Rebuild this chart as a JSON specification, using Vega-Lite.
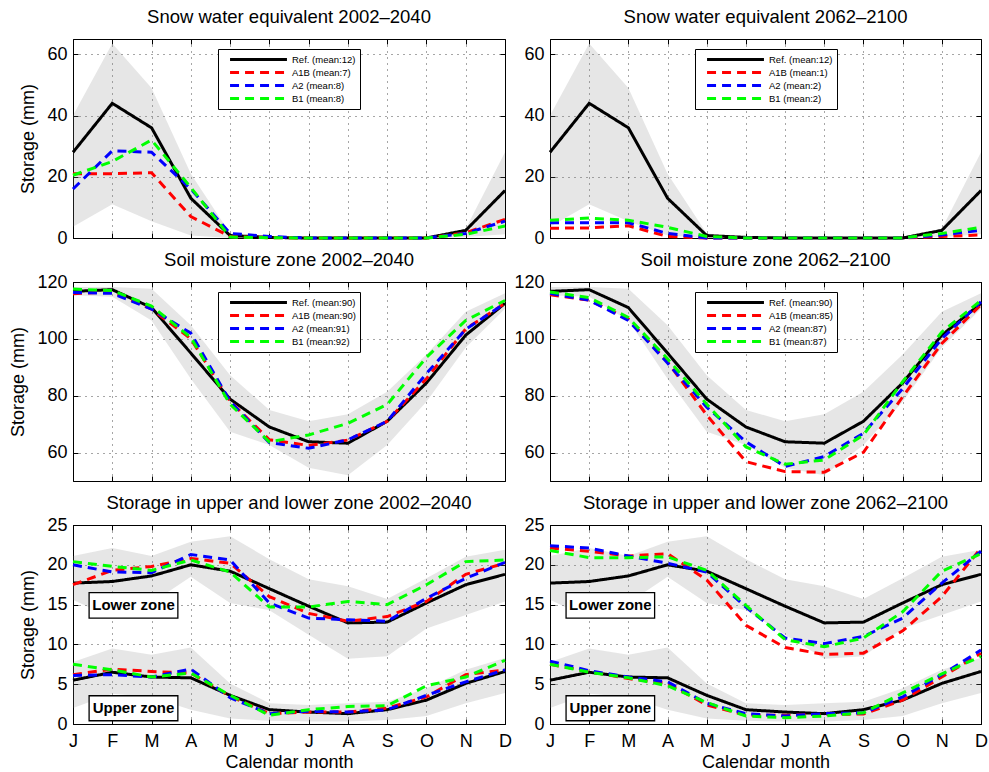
{
"$schema":"https://vega.github.io/schema/vega-lite/v6.json",
"padding":{"left":9,"top":8,"right":5,"bottom":0},
"background":"white",
"columns":2,
"bounds":"flush",
"spacing":{"row":44,"column":45},
"datasets":{
"band":[
{"r":"snow","z":"a","m":1,"lo":3.7,"hi":40},{"r":"snow","z":"a","m":2,"lo":11,"hi":63.5},{"r":"snow","z":"a","m":3,"lo":5.5,"hi":49},{"r":"snow","z":"a","m":4,"lo":0.8,"hi":21},{"r":"snow","z":"a","m":5,"lo":0,"hi":1.5},{"r":"snow","z":"a","m":6,"lo":0,"hi":0.3},{"r":"snow","z":"a","m":7,"lo":0,"hi":0.2},{"r":"snow","z":"a","m":8,"lo":0,"hi":0.2},{"r":"snow","z":"a","m":9,"lo":0,"hi":0.2},{"r":"snow","z":"a","m":10,"lo":0,"hi":0.5},{"r":"snow","z":"a","m":11,"lo":0.3,"hi":3},{"r":"snow","z":"a","m":12,"lo":1.2,"hi":28},
{"r":"soil","z":"a","m":1,"lo":115.3,"hi":118.2},{"r":"soil","z":"a","m":2,"lo":114.8,"hi":118.2},{"r":"soil","z":"a","m":3,"lo":106.5,"hi":117.6},{"r":"soil","z":"a","m":4,"lo":86,"hi":104.8},{"r":"soil","z":"a","m":5,"lo":67.3,"hi":87.2},{"r":"soil","z":"a","m":6,"lo":62.7,"hi":75},{"r":"soil","z":"a","m":7,"lo":54.7,"hi":71},{"r":"soil","z":"a","m":8,"lo":52,"hi":73.5},{"r":"soil","z":"a","m":9,"lo":62.7,"hi":81.4},{"r":"soil","z":"a","m":10,"lo":77.9,"hi":94.5},{"r":"soil","z":"a","m":11,"lo":97,"hi":109.5},{"r":"soil","z":"a","m":12,"lo":110.6,"hi":116},
{"r":"stor","z":"L","m":1,"lo":15.6,"hi":21.1},{"r":"stor","z":"L","m":2,"lo":13.3,"hi":22.1},{"r":"stor","z":"L","m":3,"lo":15.2,"hi":21.1},{"r":"stor","z":"L","m":4,"lo":18.5,"hi":22.9},{"r":"stor","z":"L","m":5,"lo":15.2,"hi":23.6},{"r":"stor","z":"L","m":6,"lo":14.3,"hi":20.7},{"r":"stor","z":"L","m":7,"lo":11.2,"hi":18.2},{"r":"stor","z":"L","m":8,"lo":8.2,"hi":17.3},{"r":"stor","z":"L","m":9,"lo":8.5,"hi":15.7},{"r":"stor","z":"L","m":10,"lo":12,"hi":18.3},{"r":"stor","z":"L","m":11,"lo":13.7,"hi":21},{"r":"stor","z":"L","m":12,"lo":15.4,"hi":21.9},
{"r":"stor","z":"U","m":1,"lo":2,"hi":7.8},{"r":"stor","z":"U","m":2,"lo":3.8,"hi":9.5},{"r":"stor","z":"U","m":3,"lo":3.4,"hi":8.7},{"r":"stor","z":"U","m":4,"lo":1.8,"hi":9.6},{"r":"stor","z":"U","m":5,"lo":0.7,"hi":5.1},{"r":"stor","z":"U","m":6,"lo":0.4,"hi":2.6},{"r":"stor","z":"U","m":7,"lo":0.3,"hi":2.4},{"r":"stor","z":"U","m":8,"lo":0.3,"hi":2.6},{"r":"stor","z":"U","m":9,"lo":0.5,"hi":2.8},{"r":"stor","z":"U","m":10,"lo":1,"hi":4.5},{"r":"stor","z":"U","m":11,"lo":2.6,"hi":6.8},{"r":"stor","z":"U","m":12,"lo":3.9,"hi":8.3}
],
"lines":[
{"r":"snow","z":"a","p":0,"s":"Ref","m":1,"v":28},{"r":"snow","z":"a","p":0,"s":"Ref","m":2,"v":44},{"r":"snow","z":"a","p":0,"s":"Ref","m":3,"v":36},{"r":"snow","z":"a","p":0,"s":"Ref","m":4,"v":13},{"r":"snow","z":"a","p":0,"s":"Ref","m":5,"v":0.8},{"r":"snow","z":"a","p":0,"s":"Ref","m":6,"v":0.2},{"r":"snow","z":"a","p":0,"s":"Ref","m":7,"v":0},{"r":"snow","z":"a","p":0,"s":"Ref","m":8,"v":0},{"r":"snow","z":"a","p":0,"s":"Ref","m":9,"v":0},{"r":"snow","z":"a","p":0,"s":"Ref","m":10,"v":0},{"r":"snow","z":"a","p":0,"s":"Ref","m":11,"v":2.5},{"r":"snow","z":"a","p":0,"s":"Ref","m":12,"v":15.5},
{"r":"snow","z":"a","p":1,"s":"A1B","m":1,"v":21},{"r":"snow","z":"a","p":1,"s":"A1B","m":2,"v":21},{"r":"snow","z":"a","p":1,"s":"A1B","m":3,"v":21.3},{"r":"snow","z":"a","p":1,"s":"A1B","m":4,"v":7},{"r":"snow","z":"a","p":1,"s":"A1B","m":5,"v":0.5},{"r":"snow","z":"a","p":1,"s":"A1B","m":6,"v":0.1},{"r":"snow","z":"a","p":1,"s":"A1B","m":7,"v":0},{"r":"snow","z":"a","p":1,"s":"A1B","m":8,"v":0},{"r":"snow","z":"a","p":1,"s":"A1B","m":9,"v":0},{"r":"snow","z":"a","p":1,"s":"A1B","m":10,"v":0},{"r":"snow","z":"a","p":1,"s":"A1B","m":11,"v":1.7},{"r":"snow","z":"a","p":1,"s":"A1B","m":12,"v":6.1},
{"r":"snow","z":"a","p":1,"s":"A2","m":1,"v":16},{"r":"snow","z":"a","p":1,"s":"A2","m":2,"v":28.5},{"r":"snow","z":"a","p":1,"s":"A2","m":3,"v":28},{"r":"snow","z":"a","p":1,"s":"A2","m":4,"v":16},{"r":"snow","z":"a","p":1,"s":"A2","m":5,"v":1.5},{"r":"snow","z":"a","p":1,"s":"A2","m":6,"v":0.5},{"r":"snow","z":"a","p":1,"s":"A2","m":7,"v":0},{"r":"snow","z":"a","p":1,"s":"A2","m":8,"v":0},{"r":"snow","z":"a","p":1,"s":"A2","m":9,"v":0},{"r":"snow","z":"a","p":1,"s":"A2","m":10,"v":0},{"r":"snow","z":"a","p":1,"s":"A2","m":11,"v":1.5},{"r":"snow","z":"a","p":1,"s":"A2","m":12,"v":5.5},
{"r":"snow","z":"a","p":1,"s":"B1","m":1,"v":20.5},{"r":"snow","z":"a","p":1,"s":"B1","m":2,"v":25},{"r":"snow","z":"a","p":1,"s":"B1","m":3,"v":32},{"r":"snow","z":"a","p":1,"s":"B1","m":4,"v":16.5},{"r":"snow","z":"a","p":1,"s":"B1","m":5,"v":0.3},{"r":"snow","z":"a","p":1,"s":"B1","m":6,"v":0.1},{"r":"snow","z":"a","p":1,"s":"B1","m":7,"v":0},{"r":"snow","z":"a","p":1,"s":"B1","m":8,"v":0},{"r":"snow","z":"a","p":1,"s":"B1","m":9,"v":0},{"r":"snow","z":"a","p":1,"s":"B1","m":10,"v":0},{"r":"snow","z":"a","p":1,"s":"B1","m":11,"v":1.2},{"r":"snow","z":"a","p":1,"s":"B1","m":12,"v":3.9},
{"r":"snow","z":"a","p":2,"s":"A1B","m":1,"v":3.2},{"r":"snow","z":"a","p":2,"s":"A1B","m":2,"v":3.3},{"r":"snow","z":"a","p":2,"s":"A1B","m":3,"v":4},{"r":"snow","z":"a","p":2,"s":"A1B","m":4,"v":0.5},{"r":"snow","z":"a","p":2,"s":"A1B","m":5,"v":0},{"r":"snow","z":"a","p":2,"s":"A1B","m":6,"v":0},{"r":"snow","z":"a","p":2,"s":"A1B","m":7,"v":0},{"r":"snow","z":"a","p":2,"s":"A1B","m":8,"v":0},{"r":"snow","z":"a","p":2,"s":"A1B","m":9,"v":0},{"r":"snow","z":"a","p":2,"s":"A1B","m":10,"v":0},{"r":"snow","z":"a","p":2,"s":"A1B","m":11,"v":0.5},{"r":"snow","z":"a","p":2,"s":"A1B","m":12,"v":1},
{"r":"snow","z":"a","p":2,"s":"A2","m":1,"v":5},{"r":"snow","z":"a","p":2,"s":"A2","m":2,"v":5},{"r":"snow","z":"a","p":2,"s":"A2","m":3,"v":5},{"r":"snow","z":"a","p":2,"s":"A2","m":4,"v":1.5},{"r":"snow","z":"a","p":2,"s":"A2","m":5,"v":0},{"r":"snow","z":"a","p":2,"s":"A2","m":6,"v":0},{"r":"snow","z":"a","p":2,"s":"A2","m":7,"v":0},{"r":"snow","z":"a","p":2,"s":"A2","m":8,"v":0},{"r":"snow","z":"a","p":2,"s":"A2","m":9,"v":0},{"r":"snow","z":"a","p":2,"s":"A2","m":10,"v":0},{"r":"snow","z":"a","p":2,"s":"A2","m":11,"v":1},{"r":"snow","z":"a","p":2,"s":"A2","m":12,"v":2.5},
{"r":"snow","z":"a","p":2,"s":"B1","m":1,"v":5.8},{"r":"snow","z":"a","p":2,"s":"B1","m":2,"v":6.5},{"r":"snow","z":"a","p":2,"s":"B1","m":3,"v":5.8},{"r":"snow","z":"a","p":2,"s":"B1","m":4,"v":3.5},{"r":"snow","z":"a","p":2,"s":"B1","m":5,"v":0.5},{"r":"snow","z":"a","p":2,"s":"B1","m":6,"v":0},{"r":"snow","z":"a","p":2,"s":"B1","m":7,"v":0},{"r":"snow","z":"a","p":2,"s":"B1","m":8,"v":0},{"r":"snow","z":"a","p":2,"s":"B1","m":9,"v":0},{"r":"snow","z":"a","p":2,"s":"B1","m":10,"v":0},{"r":"snow","z":"a","p":2,"s":"B1","m":11,"v":1.5},{"r":"snow","z":"a","p":2,"s":"B1","m":12,"v":3.5},
{"r":"soil","z":"a","p":0,"s":"Ref","m":1,"v":116.7},{"r":"soil","z":"a","p":0,"s":"Ref","m":2,"v":117.3},{"r":"soil","z":"a","p":0,"s":"Ref","m":3,"v":111},{"r":"soil","z":"a","p":0,"s":"Ref","m":4,"v":95},{"r":"soil","z":"a","p":0,"s":"Ref","m":5,"v":78.8},{"r":"soil","z":"a","p":0,"s":"Ref","m":6,"v":69},{"r":"soil","z":"a","p":0,"s":"Ref","m":7,"v":63.8},{"r":"soil","z":"a","p":0,"s":"Ref","m":8,"v":63.3},{"r":"soil","z":"a","p":0,"s":"Ref","m":9,"v":71},{"r":"soil","z":"a","p":0,"s":"Ref","m":10,"v":84.5},{"r":"soil","z":"a","p":0,"s":"Ref","m":11,"v":101.3},{"r":"soil","z":"a","p":0,"s":"Ref","m":12,"v":112.5},
{"r":"soil","z":"a","p":1,"s":"A1B","m":1,"v":115.9},{"r":"soil","z":"a","p":1,"s":"A1B","m":2,"v":116.5},{"r":"soil","z":"a","p":1,"s":"A1B","m":3,"v":110.5},{"r":"soil","z":"a","p":1,"s":"A1B","m":4,"v":100},{"r":"soil","z":"a","p":1,"s":"A1B","m":5,"v":78},{"r":"soil","z":"a","p":1,"s":"A1B","m":6,"v":64.5},{"r":"soil","z":"a","p":1,"s":"A1B","m":7,"v":62.5},{"r":"soil","z":"a","p":1,"s":"A1B","m":8,"v":64.4},{"r":"soil","z":"a","p":1,"s":"A1B","m":9,"v":71},{"r":"soil","z":"a","p":1,"s":"A1B","m":10,"v":86},{"r":"soil","z":"a","p":1,"s":"A1B","m":11,"v":103.5},{"r":"soil","z":"a","p":1,"s":"A1B","m":12,"v":112.5},
{"r":"soil","z":"a","p":1,"s":"A2","m":1,"v":116.3},{"r":"soil","z":"a","p":1,"s":"A2","m":2,"v":116},{"r":"soil","z":"a","p":1,"s":"A2","m":3,"v":110.5},{"r":"soil","z":"a","p":1,"s":"A2","m":4,"v":102},{"r":"soil","z":"a","p":1,"s":"A2","m":5,"v":78},{"r":"soil","z":"a","p":1,"s":"A2","m":6,"v":63.5},{"r":"soil","z":"a","p":1,"s":"A2","m":7,"v":61.5},{"r":"soil","z":"a","p":1,"s":"A2","m":8,"v":64.5},{"r":"soil","z":"a","p":1,"s":"A2","m":9,"v":71},{"r":"soil","z":"a","p":1,"s":"A2","m":10,"v":87.8},{"r":"soil","z":"a","p":1,"s":"A2","m":11,"v":103.4},{"r":"soil","z":"a","p":1,"s":"A2","m":12,"v":112.5},
{"r":"soil","z":"a","p":1,"s":"B1","m":1,"v":117.5},{"r":"soil","z":"a","p":1,"s":"B1","m":2,"v":117},{"r":"soil","z":"a","p":1,"s":"B1","m":3,"v":111.5},{"r":"soil","z":"a","p":1,"s":"B1","m":4,"v":100.5},{"r":"soil","z":"a","p":1,"s":"B1","m":5,"v":77},{"r":"soil","z":"a","p":1,"s":"B1","m":6,"v":63.8},{"r":"soil","z":"a","p":1,"s":"B1","m":7,"v":66.2},{"r":"soil","z":"a","p":1,"s":"B1","m":8,"v":70.3},{"r":"soil","z":"a","p":1,"s":"B1","m":9,"v":76.9},{"r":"soil","z":"a","p":1,"s":"B1","m":10,"v":93.5},{"r":"soil","z":"a","p":1,"s":"B1","m":11,"v":106.5},{"r":"soil","z":"a","p":1,"s":"B1","m":12,"v":113.5},
{"r":"soil","z":"a","p":2,"s":"A1B","m":1,"v":115.5},{"r":"soil","z":"a","p":2,"s":"A1B","m":2,"v":113.6},{"r":"soil","z":"a","p":2,"s":"A1B","m":3,"v":107},{"r":"soil","z":"a","p":2,"s":"A1B","m":4,"v":91.9},{"r":"soil","z":"a","p":2,"s":"A1B","m":5,"v":73.2},{"r":"soil","z":"a","p":2,"s":"A1B","m":6,"v":56.8},{"r":"soil","z":"a","p":2,"s":"A1B","m":7,"v":53.3},{"r":"soil","z":"a","p":2,"s":"A1B","m":8,"v":53.1},{"r":"soil","z":"a","p":2,"s":"A1B","m":9,"v":60.1},{"r":"soil","z":"a","p":2,"s":"A1B","m":10,"v":79.6},{"r":"soil","z":"a","p":2,"s":"A1B","m":11,"v":98.4},{"r":"soil","z":"a","p":2,"s":"A1B","m":12,"v":112},
{"r":"soil","z":"a","p":2,"s":"A2","m":1,"v":116},{"r":"soil","z":"a","p":2,"s":"A2","m":2,"v":113.6},{"r":"soil","z":"a","p":2,"s":"A2","m":3,"v":106.5},{"r":"soil","z":"a","p":2,"s":"A2","m":4,"v":91.5},{"r":"soil","z":"a","p":2,"s":"A2","m":5,"v":76},{"r":"soil","z":"a","p":2,"s":"A2","m":6,"v":63.8},{"r":"soil","z":"a","p":2,"s":"A2","m":7,"v":55.1},{"r":"soil","z":"a","p":2,"s":"A2","m":8,"v":58.6},{"r":"soil","z":"a","p":2,"s":"A2","m":9,"v":66.8},{"r":"soil","z":"a","p":2,"s":"A2","m":10,"v":82.5},{"r":"soil","z":"a","p":2,"s":"A2","m":11,"v":100.1},{"r":"soil","z":"a","p":2,"s":"A2","m":12,"v":113},
{"r":"soil","z":"a","p":2,"s":"B1","m":1,"v":116.5},{"r":"soil","z":"a","p":2,"s":"B1","m":2,"v":114.5},{"r":"soil","z":"a","p":2,"s":"B1","m":3,"v":107.5},{"r":"soil","z":"a","p":2,"s":"B1","m":4,"v":93},{"r":"soil","z":"a","p":2,"s":"B1","m":5,"v":77},{"r":"soil","z":"a","p":2,"s":"B1","m":6,"v":62},{"r":"soil","z":"a","p":2,"s":"B1","m":7,"v":55.9},{"r":"soil","z":"a","p":2,"s":"B1","m":8,"v":57.4},{"r":"soil","z":"a","p":2,"s":"B1","m":9,"v":66.2},{"r":"soil","z":"a","p":2,"s":"B1","m":10,"v":84.9},{"r":"soil","z":"a","p":2,"s":"B1","m":11,"v":102.4},{"r":"soil","z":"a","p":2,"s":"B1","m":12,"v":113.5},
{"r":"stor","z":"L","p":0,"s":"Ref","m":1,"v":17.7},{"r":"stor","z":"L","p":0,"s":"Ref","m":2,"v":17.9},{"r":"stor","z":"L","p":0,"s":"Ref","m":3,"v":18.6},{"r":"stor","z":"L","p":0,"s":"Ref","m":4,"v":20},{"r":"stor","z":"L","p":0,"s":"Ref","m":5,"v":19.2},{"r":"stor","z":"L","p":0,"s":"Ref","m":6,"v":17},{"r":"stor","z":"L","p":0,"s":"Ref","m":7,"v":14.8},{"r":"stor","z":"L","p":0,"s":"Ref","m":8,"v":12.7},{"r":"stor","z":"L","p":0,"s":"Ref","m":9,"v":12.8},{"r":"stor","z":"L","p":0,"s":"Ref","m":10,"v":15.2},{"r":"stor","z":"L","p":0,"s":"Ref","m":11,"v":17.5},{"r":"stor","z":"L","p":0,"s":"Ref","m":12,"v":18.8},
{"r":"stor","z":"U","p":0,"s":"Ref","m":1,"v":5.5},{"r":"stor","z":"U","p":0,"s":"Ref","m":2,"v":6.5},{"r":"stor","z":"U","p":0,"s":"Ref","m":3,"v":5.9},{"r":"stor","z":"U","p":0,"s":"Ref","m":4,"v":5.8},{"r":"stor","z":"U","p":0,"s":"Ref","m":5,"v":3.6},{"r":"stor","z":"U","p":0,"s":"Ref","m":6,"v":1.8},{"r":"stor","z":"U","p":0,"s":"Ref","m":7,"v":1.5},{"r":"stor","z":"U","p":0,"s":"Ref","m":8,"v":1.3},{"r":"stor","z":"U","p":0,"s":"Ref","m":9,"v":1.8},{"r":"stor","z":"U","p":0,"s":"Ref","m":10,"v":3},{"r":"stor","z":"U","p":0,"s":"Ref","m":11,"v":5.1},{"r":"stor","z":"U","p":0,"s":"Ref","m":12,"v":6.6},
{"r":"stor","z":"L","p":1,"s":"A1B","m":1,"v":17.5},{"r":"stor","z":"L","p":1,"s":"A1B","m":2,"v":19.3},{"r":"stor","z":"L","p":1,"s":"A1B","m":3,"v":19.8},{"r":"stor","z":"L","p":1,"s":"A1B","m":4,"v":20.8},{"r":"stor","z":"L","p":1,"s":"A1B","m":5,"v":20.2},{"r":"stor","z":"L","p":1,"s":"A1B","m":6,"v":16},{"r":"stor","z":"L","p":1,"s":"A1B","m":7,"v":13.9},{"r":"stor","z":"L","p":1,"s":"A1B","m":8,"v":12.9},{"r":"stor","z":"L","p":1,"s":"A1B","m":9,"v":13.5},{"r":"stor","z":"L","p":1,"s":"A1B","m":10,"v":15.4},{"r":"stor","z":"L","p":1,"s":"A1B","m":11,"v":18.8},{"r":"stor","z":"L","p":1,"s":"A1B","m":12,"v":20.2},
{"r":"stor","z":"L","p":1,"s":"A2","m":1,"v":20},{"r":"stor","z":"L","p":1,"s":"A2","m":2,"v":19.1},{"r":"stor","z":"L","p":1,"s":"A2","m":3,"v":19},{"r":"stor","z":"L","p":1,"s":"A2","m":4,"v":21.3},{"r":"stor","z":"L","p":1,"s":"A2","m":5,"v":20.6},{"r":"stor","z":"L","p":1,"s":"A2","m":6,"v":15.2},{"r":"stor","z":"L","p":1,"s":"A2","m":7,"v":13.3},{"r":"stor","z":"L","p":1,"s":"A2","m":8,"v":13.1},{"r":"stor","z":"L","p":1,"s":"A2","m":9,"v":12.9},{"r":"stor","z":"L","p":1,"s":"A2","m":10,"v":15.8},{"r":"stor","z":"L","p":1,"s":"A2","m":11,"v":18.3},{"r":"stor","z":"L","p":1,"s":"A2","m":12,"v":20.3},
{"r":"stor","z":"L","p":1,"s":"B1","m":1,"v":20.4},{"r":"stor","z":"L","p":1,"s":"B1","m":2,"v":19.8},{"r":"stor","z":"L","p":1,"s":"B1","m":3,"v":19.3},{"r":"stor","z":"L","p":1,"s":"B1","m":4,"v":20.6},{"r":"stor","z":"L","p":1,"s":"B1","m":5,"v":19.1},{"r":"stor","z":"L","p":1,"s":"B1","m":6,"v":14.7},{"r":"stor","z":"L","p":1,"s":"B1","m":7,"v":14.7},{"r":"stor","z":"L","p":1,"s":"B1","m":8,"v":15.4},{"r":"stor","z":"L","p":1,"s":"B1","m":9,"v":15},{"r":"stor","z":"L","p":1,"s":"B1","m":10,"v":17.5},{"r":"stor","z":"L","p":1,"s":"B1","m":11,"v":20.4},{"r":"stor","z":"L","p":1,"s":"B1","m":12,"v":20.6},
{"r":"stor","z":"U","p":1,"s":"A1B","m":1,"v":6.2},{"r":"stor","z":"U","p":1,"s":"A1B","m":2,"v":6.9},{"r":"stor","z":"U","p":1,"s":"A1B","m":3,"v":6.6},{"r":"stor","z":"U","p":1,"s":"A1B","m":4,"v":6.4},{"r":"stor","z":"U","p":1,"s":"A1B","m":5,"v":3.5},{"r":"stor","z":"U","p":1,"s":"A1B","m":6,"v":1.3},{"r":"stor","z":"U","p":1,"s":"A1B","m":7,"v":1.5},{"r":"stor","z":"U","p":1,"s":"A1B","m":8,"v":1.5},{"r":"stor","z":"U","p":1,"s":"A1B","m":9,"v":2},{"r":"stor","z":"U","p":1,"s":"A1B","m":10,"v":3.4},{"r":"stor","z":"U","p":1,"s":"A1B","m":11,"v":6.2},{"r":"stor","z":"U","p":1,"s":"A1B","m":12,"v":6.8},
{"r":"stor","z":"U","p":1,"s":"A2","m":1,"v":6.1},{"r":"stor","z":"U","p":1,"s":"A2","m":2,"v":6.2},{"r":"stor","z":"U","p":1,"s":"A2","m":3,"v":5.9},{"r":"stor","z":"U","p":1,"s":"A2","m":4,"v":6.9},{"r":"stor","z":"U","p":1,"s":"A2","m":5,"v":3.3},{"r":"stor","z":"U","p":1,"s":"A2","m":6,"v":1.3},{"r":"stor","z":"U","p":1,"s":"A2","m":7,"v":1.6},{"r":"stor","z":"U","p":1,"s":"A2","m":8,"v":1.5},{"r":"stor","z":"U","p":1,"s":"A2","m":9,"v":1.8},{"r":"stor","z":"U","p":1,"s":"A2","m":10,"v":3.6},{"r":"stor","z":"U","p":1,"s":"A2","m":11,"v":5.3},{"r":"stor","z":"U","p":1,"s":"A2","m":12,"v":6.8},
{"r":"stor","z":"U","p":1,"s":"B1","m":1,"v":7.5},{"r":"stor","z":"U","p":1,"s":"B1","m":2,"v":6.8},{"r":"stor","z":"U","p":1,"s":"B1","m":3,"v":5.9},{"r":"stor","z":"U","p":1,"s":"B1","m":4,"v":6.4},{"r":"stor","z":"U","p":1,"s":"B1","m":5,"v":3.6},{"r":"stor","z":"U","p":1,"s":"B1","m":6,"v":1.1},{"r":"stor","z":"U","p":1,"s":"B1","m":7,"v":1.8},{"r":"stor","z":"U","p":1,"s":"B1","m":8,"v":2.2},{"r":"stor","z":"U","p":1,"s":"B1","m":9,"v":2.3},{"r":"stor","z":"U","p":1,"s":"B1","m":10,"v":4.8},{"r":"stor","z":"U","p":1,"s":"B1","m":11,"v":5.9},{"r":"stor","z":"U","p":1,"s":"B1","m":12,"v":8},
{"r":"stor","z":"L","p":2,"s":"A1B","m":1,"v":22.1},{"r":"stor","z":"L","p":2,"s":"A1B","m":2,"v":21.7},{"r":"stor","z":"L","p":2,"s":"A1B","m":3,"v":21.1},{"r":"stor","z":"L","p":2,"s":"A1B","m":4,"v":21.4},{"r":"stor","z":"L","p":2,"s":"A1B","m":5,"v":18.1},{"r":"stor","z":"L","p":2,"s":"A1B","m":6,"v":12.4},{"r":"stor","z":"L","p":2,"s":"A1B","m":7,"v":9.6},{"r":"stor","z":"L","p":2,"s":"A1B","m":8,"v":8.75},{"r":"stor","z":"L","p":2,"s":"A1B","m":9,"v":8.9},{"r":"stor","z":"L","p":2,"s":"A1B","m":10,"v":11.7},{"r":"stor","z":"L","p":2,"s":"A1B","m":11,"v":16},{"r":"stor","z":"L","p":2,"s":"A1B","m":12,"v":22.1},
{"r":"stor","z":"L","p":2,"s":"A2","m":1,"v":22.4},{"r":"stor","z":"L","p":2,"s":"A2","m":2,"v":22.1},{"r":"stor","z":"L","p":2,"s":"A2","m":3,"v":21.1},{"r":"stor","z":"L","p":2,"s":"A2","m":4,"v":20.2},{"r":"stor","z":"L","p":2,"s":"A2","m":5,"v":19.1},{"r":"stor","z":"L","p":2,"s":"A2","m":6,"v":14.7},{"r":"stor","z":"L","p":2,"s":"A2","m":7,"v":10.8},{"r":"stor","z":"L","p":2,"s":"A2","m":8,"v":10.1},{"r":"stor","z":"L","p":2,"s":"A2","m":9,"v":11},{"r":"stor","z":"L","p":2,"s":"A2","m":10,"v":13.3},{"r":"stor","z":"L","p":2,"s":"A2","m":11,"v":17.7},{"r":"stor","z":"L","p":2,"s":"A2","m":12,"v":21.7},
{"r":"stor","z":"L","p":2,"s":"B1","m":1,"v":21.8},{"r":"stor","z":"L","p":2,"s":"B1","m":2,"v":20.9},{"r":"stor","z":"L","p":2,"s":"B1","m":3,"v":20.9},{"r":"stor","z":"L","p":2,"s":"B1","m":4,"v":21},{"r":"stor","z":"L","p":2,"s":"B1","m":5,"v":19.3},{"r":"stor","z":"L","p":2,"s":"B1","m":6,"v":14.9},{"r":"stor","z":"L","p":2,"s":"B1","m":7,"v":10.6},{"r":"stor","z":"L","p":2,"s":"B1","m":8,"v":9.7},{"r":"stor","z":"L","p":2,"s":"B1","m":9,"v":10.8},{"r":"stor","z":"L","p":2,"s":"B1","m":10,"v":14.1},{"r":"stor","z":"L","p":2,"s":"B1","m":11,"v":19.2},{"r":"stor","z":"L","p":2,"s":"B1","m":12,"v":21.4},
{"r":"stor","z":"U","p":2,"s":"A1B","m":1,"v":7.5},{"r":"stor","z":"U","p":2,"s":"A1B","m":2,"v":6.6},{"r":"stor","z":"U","p":2,"s":"A1B","m":3,"v":5.7},{"r":"stor","z":"U","p":2,"s":"A1B","m":4,"v":5.1},{"r":"stor","z":"U","p":2,"s":"A1B","m":5,"v":2.4},{"r":"stor","z":"U","p":2,"s":"A1B","m":6,"v":1.1},{"r":"stor","z":"U","p":2,"s":"A1B","m":7,"v":1.1},{"r":"stor","z":"U","p":2,"s":"A1B","m":8,"v":1.2},{"r":"stor","z":"U","p":2,"s":"A1B","m":9,"v":1.25},{"r":"stor","z":"U","p":2,"s":"A1B","m":10,"v":3},{"r":"stor","z":"U","p":2,"s":"A1B","m":11,"v":5.9},{"r":"stor","z":"U","p":2,"s":"A1B","m":12,"v":8.9},
{"r":"stor","z":"U","p":2,"s":"A2","m":1,"v":7.9},{"r":"stor","z":"U","p":2,"s":"A2","m":2,"v":6.7},{"r":"stor","z":"U","p":2,"s":"A2","m":3,"v":5.9},{"r":"stor","z":"U","p":2,"s":"A2","m":4,"v":5.3},{"r":"stor","z":"U","p":2,"s":"A2","m":5,"v":2.6},{"r":"stor","z":"U","p":2,"s":"A2","m":6,"v":1.3},{"r":"stor","z":"U","p":2,"s":"A2","m":7,"v":1},{"r":"stor","z":"U","p":2,"s":"A2","m":8,"v":1.3},{"r":"stor","z":"U","p":2,"s":"A2","m":9,"v":1.4},{"r":"stor","z":"U","p":2,"s":"A2","m":10,"v":3.4},{"r":"stor","z":"U","p":2,"s":"A2","m":11,"v":6.2},{"r":"stor","z":"U","p":2,"s":"A2","m":12,"v":9.3},
{"r":"stor","z":"U","p":2,"s":"B1","m":1,"v":7.5},{"r":"stor","z":"U","p":2,"s":"B1","m":2,"v":6.5},{"r":"stor","z":"U","p":2,"s":"B1","m":3,"v":5.8},{"r":"stor","z":"U","p":2,"s":"B1","m":4,"v":4.8},{"r":"stor","z":"U","p":2,"s":"B1","m":5,"v":2.7},{"r":"stor","z":"U","p":2,"s":"B1","m":6,"v":1},{"r":"stor","z":"U","p":2,"s":"B1","m":7,"v":0.8},{"r":"stor","z":"U","p":2,"s":"B1","m":8,"v":1},{"r":"stor","z":"U","p":2,"s":"B1","m":9,"v":1.4},{"r":"stor","z":"U","p":2,"s":"B1","m":10,"v":3.9},{"r":"stor","z":"U","p":2,"s":"B1","m":11,"v":6.3},{"r":"stor","z":"U","p":2,"s":"B1","m":12,"v":8.5}
]
},
"concat":[
{"title":{"text":"Snow water equivalent 2002–2040","offset":12},"width":432,"height":199,
 "resolve":{"axis":{"x":"independent","y":"independent"}},
 "layer":[
  {"data":{"name":"band"},"transform":[{"filter":"datum.r=='snow'"}],"mark":{"type":"area","color":"#808080","opacity":0.2},
   "encoding":{"x":{"field":"m","type":"quantitative","scale":{"domain":[1,12],"nice":false,"zero":false},"axis":{"values":[1,2,3,4,5,6,7,8,9,10,11,12],"labels":false,"title":null,"grid":true}},
    "y":{"field":"hi","type":"quantitative","scale":{"domain":[0,65],"nice":false,"zero":false},"axis":{"values":[0,20,40,60],"title":"Storage (mm)","grid":true}},
    "y2":{"field":"lo"},"detail":{"field":"z"}}},
  {"data":{"name":"lines"},"transform":[{"filter":"datum.r=='snow' && datum.p!=2"}],"mark":{"type":"line","strokeWidth":3},
   "encoding":{"x":{"field":"m","type":"quantitative","axis":{"orient":"top","values":[1,2,3,4,5,6,7,8,9,10,11,12],"labels":false,"title":null,"grid":false}},
    "y":{"field":"v","type":"quantitative","axis":{"orient":"right","values":[0,20,40,60],"labels":false,"title":null,"grid":false}},
    "color":{"field":"s","type":"nominal","scale":{"domain":["Ref","A1B","A2","B1"],"range":["#000000","#ff0000","#0000ff","#00ff00"]},"legend":{"title":null,"labelExpr":"datum.label=='Ref'?'Ref. (mean:12)':datum.label=='A1B'?'A1B (mean:7)':datum.label=='A2'?'A2 (mean:8)':'B1 (mean:8)'"}},
    "strokeDash":{"field":"s","type":"nominal","scale":{"domain":["Ref","A1B","A2","B1"],"range":[[1,0],[9,6],[9,6],[9,6]]},"legend":{"title":null,"labelExpr":"datum.label=='Ref'?'Ref. (mean:12)':datum.label=='A1B'?'A1B (mean:7)':datum.label=='A2'?'A2 (mean:8)':'B1 (mean:8)'"}},
    "detail":{"field":"z"}}}
 ]},
{"title":{"text":"Snow water equivalent 2062–2100","offset":12},"width":431,"height":199,
 "resolve":{"axis":{"x":"independent","y":"independent"}},
 "layer":[
  {"data":{"name":"band"},"transform":[{"filter":"datum.r=='snow'"}],"mark":{"type":"area","color":"#808080","opacity":0.2},
   "encoding":{"x":{"field":"m","type":"quantitative","scale":{"domain":[1,12],"nice":false,"zero":false},"axis":{"values":[1,2,3,4,5,6,7,8,9,10,11,12],"labels":false,"title":null,"grid":true}},
    "y":{"field":"hi","type":"quantitative","scale":{"domain":[0,65],"nice":false,"zero":false},"axis":{"values":[0,20,40,60],"title":null,"grid":true}},
    "y2":{"field":"lo"},"detail":{"field":"z"}}},
  {"data":{"name":"lines"},"transform":[{"filter":"datum.r=='snow' && datum.p!=1"}],"mark":{"type":"line","strokeWidth":3},
   "encoding":{"x":{"field":"m","type":"quantitative","axis":{"orient":"top","values":[1,2,3,4,5,6,7,8,9,10,11,12],"labels":false,"title":null,"grid":false}},
    "y":{"field":"v","type":"quantitative","axis":{"orient":"right","values":[0,20,40,60],"labels":false,"title":null,"grid":false}},
    "color":{"field":"s","type":"nominal","scale":{"domain":["Ref","A1B","A2","B1"],"range":["#000000","#ff0000","#0000ff","#00ff00"]},"legend":{"title":null,"labelExpr":"datum.label=='Ref'?'Ref. (mean:12)':datum.label=='A1B'?'A1B (mean:1)':datum.label=='A2'?'A2 (mean:2)':'B1 (mean:2)'"}},
    "strokeDash":{"field":"s","type":"nominal","scale":{"domain":["Ref","A1B","A2","B1"],"range":[[1,0],[9,6],[9,6],[9,6]]},"legend":{"title":null,"labelExpr":"datum.label=='Ref'?'Ref. (mean:12)':datum.label=='A1B'?'A1B (mean:1)':datum.label=='A2'?'A2 (mean:2)':'B1 (mean:2)'"}},
    "detail":{"field":"z"}}}
 ]},
{"title":{"text":"Soil moisture zone 2002–2040","offset":4},"width":432,"height":199,
 "resolve":{"axis":{"x":"independent","y":"independent"}},
 "layer":[
  {"data":{"name":"band"},"transform":[{"filter":"datum.r=='soil'"}],"mark":{"type":"area","color":"#808080","opacity":0.2},
   "encoding":{"x":{"field":"m","type":"quantitative","scale":{"domain":[1,12],"nice":false,"zero":false},"axis":{"values":[1,2,3,4,5,6,7,8,9,10,11,12],"labels":false,"title":null,"grid":true}},
    "y":{"field":"hi","type":"quantitative","scale":{"domain":[50,120],"nice":false,"zero":false},"axis":{"values":[60,80,100,120],"title":"Storage (mm)","grid":true}},
    "y2":{"field":"lo"},"detail":{"field":"z"}}},
  {"data":{"name":"lines"},"transform":[{"filter":"datum.r=='soil' && datum.p!=2"}],"mark":{"type":"line","strokeWidth":3},
   "encoding":{"x":{"field":"m","type":"quantitative","axis":{"orient":"top","values":[1,2,3,4,5,6,7,8,9,10,11,12],"labels":false,"title":null,"grid":false}},
    "y":{"field":"v","type":"quantitative","axis":{"orient":"right","values":[60,80,100,120],"labels":false,"title":null,"grid":false}},
    "color":{"field":"s","type":"nominal","scale":{"domain":["Ref","A1B","A2","B1"],"range":["#000000","#ff0000","#0000ff","#00ff00"]},"legend":{"title":null,"labelExpr":"datum.label=='Ref'?'Ref. (mean:90)':datum.label=='A1B'?'A1B (mean:90)':datum.label=='A2'?'A2 (mean:91)':'B1 (mean:92)'"}},
    "strokeDash":{"field":"s","type":"nominal","scale":{"domain":["Ref","A1B","A2","B1"],"range":[[1,0],[9,6],[9,6],[9,6]]},"legend":{"title":null,"labelExpr":"datum.label=='Ref'?'Ref. (mean:90)':datum.label=='A1B'?'A1B (mean:90)':datum.label=='A2'?'A2 (mean:91)':'B1 (mean:92)'"}},
    "detail":{"field":"z"}}}
 ]},
{"title":{"text":"Soil moisture zone 2062–2100","offset":4},"width":431,"height":199,
 "resolve":{"axis":{"x":"independent","y":"independent"}},
 "layer":[
  {"data":{"name":"band"},"transform":[{"filter":"datum.r=='soil'"}],"mark":{"type":"area","color":"#808080","opacity":0.2},
   "encoding":{"x":{"field":"m","type":"quantitative","scale":{"domain":[1,12],"nice":false,"zero":false},"axis":{"values":[1,2,3,4,5,6,7,8,9,10,11,12],"labels":false,"title":null,"grid":true}},
    "y":{"field":"hi","type":"quantitative","scale":{"domain":[50,120],"nice":false,"zero":false},"axis":{"values":[60,80,100,120],"title":null,"grid":true}},
    "y2":{"field":"lo"},"detail":{"field":"z"}}},
  {"data":{"name":"lines"},"transform":[{"filter":"datum.r=='soil' && datum.p!=1"}],"mark":{"type":"line","strokeWidth":3},
   "encoding":{"x":{"field":"m","type":"quantitative","axis":{"orient":"top","values":[1,2,3,4,5,6,7,8,9,10,11,12],"labels":false,"title":null,"grid":false}},
    "y":{"field":"v","type":"quantitative","axis":{"orient":"right","values":[60,80,100,120],"labels":false,"title":null,"grid":false}},
    "color":{"field":"s","type":"nominal","scale":{"domain":["Ref","A1B","A2","B1"],"range":["#000000","#ff0000","#0000ff","#00ff00"]},"legend":{"title":null,"labelExpr":"datum.label=='Ref'?'Ref. (mean:90)':datum.label=='A1B'?'A1B (mean:85)':datum.label=='A2'?'A2 (mean:87)':'B1 (mean:87)'"}},
    "strokeDash":{"field":"s","type":"nominal","scale":{"domain":["Ref","A1B","A2","B1"],"range":[[1,0],[9,6],[9,6],[9,6]]},"legend":{"title":null,"labelExpr":"datum.label=='Ref'?'Ref. (mean:90)':datum.label=='A1B'?'A1B (mean:85)':datum.label=='A2'?'A2 (mean:87)':'B1 (mean:87)'"}},
    "detail":{"field":"z"}}}
 ]},
{"title":{"text":"Storage in upper and lower zone 2002–2040","offset":4},"width":432,"height":199,
 "resolve":{"axis":{"x":"independent","y":"independent"}},
 "layer":[
  {"data":{"name":"band"},"transform":[{"filter":"datum.r=='stor'"}],"mark":{"type":"area","color":"#808080","opacity":0.2},
   "encoding":{"x":{"field":"m","type":"quantitative","scale":{"domain":[1,12],"nice":false,"zero":false},"axis":{"values":[1,2,3,4,5,6,7,8,9,10,11,12],"labelExpr":"['J','F','M','A','M','J','J','A','S','O','N','D'][datum.value-1]","title":"Calendar month","grid":true}},
    "y":{"field":"hi","type":"quantitative","scale":{"domain":[0,25],"nice":false,"zero":false},"axis":{"values":[0,5,10,15,20,25],"title":"Storage (mm)","grid":true}},
    "y2":{"field":"lo"},"detail":{"field":"z"}}},
  {"data":{"name":"lines"},"transform":[{"filter":"datum.r=='stor' && datum.p!=2"}],"mark":{"type":"line","strokeWidth":3},
   "encoding":{"x":{"field":"m","type":"quantitative","axis":{"orient":"top","values":[1,2,3,4,5,6,7,8,9,10,11,12],"labels":false,"title":null,"grid":false}},
    "y":{"field":"v","type":"quantitative","axis":{"orient":"right","values":[0,5,10,15,20,25],"labels":false,"title":null,"grid":false}},
    "color":{"field":"s","type":"nominal","scale":{"domain":["Ref","A1B","A2","B1"],"range":["#000000","#ff0000","#0000ff","#00ff00"]},"legend":null},
    "strokeDash":{"field":"s","type":"nominal","scale":{"domain":["Ref","A1B","A2","B1"],"range":[[1,0],[9,6],[9,6],[9,6]]},"legend":null},
    "detail":{"field":"z"}}},
  {"data":{"values":[{"t":"Lower zone"}]},"mark":{"type":"rect","fill":"white","stroke":"black","strokeWidth":1.3},
   "encoding":{"x":{"datum":1.41,"type":"quantitative","axis":null},"x2":{"datum":3.67},"y":{"datum":13.3,"type":"quantitative","axis":null},"y2":{"datum":16.5}}},
  {"data":{"values":[{"t":"Lower zone"}]},"mark":{"type":"text","fontSize":15,"fontWeight":"bold","color":"black"},
   "encoding":{"x":{"datum":2.54,"type":"quantitative","axis":null},"y":{"datum":14.9,"type":"quantitative","axis":null},"text":{"field":"t"}}},
  {"data":{"values":[{"t":"Upper zone"}]},"mark":{"type":"rect","fill":"white","stroke":"black","strokeWidth":1.3},
   "encoding":{"x":{"datum":1.41,"type":"quantitative","axis":null},"x2":{"datum":3.67},"y":{"datum":0.41,"type":"quantitative","axis":null},"y2":{"datum":3.55}}},
  {"data":{"values":[{"t":"Upper zone"}]},"mark":{"type":"text","fontSize":15,"fontWeight":"bold","color":"black"},
   "encoding":{"x":{"datum":2.54,"type":"quantitative","axis":null},"y":{"datum":1.95,"type":"quantitative","axis":null},"text":{"field":"t"}}}
 ]},
{"title":{"text":"Storage in upper and lower zone 2062–2100","offset":4},"width":431,"height":199,
 "resolve":{"axis":{"x":"independent","y":"independent"}},
 "layer":[
  {"data":{"name":"band"},"transform":[{"filter":"datum.r=='stor'"}],"mark":{"type":"area","color":"#808080","opacity":0.2},
   "encoding":{"x":{"field":"m","type":"quantitative","scale":{"domain":[1,12],"nice":false,"zero":false},"axis":{"values":[1,2,3,4,5,6,7,8,9,10,11,12],"labelExpr":"['J','F','M','A','M','J','J','A','S','O','N','D'][datum.value-1]","title":"Calendar month","grid":true}},
    "y":{"field":"hi","type":"quantitative","scale":{"domain":[0,25],"nice":false,"zero":false},"axis":{"values":[0,5,10,15,20,25],"title":null,"grid":true}},
    "y2":{"field":"lo"},"detail":{"field":"z"}}},
  {"data":{"name":"lines"},"transform":[{"filter":"datum.r=='stor' && datum.p!=1"}],"mark":{"type":"line","strokeWidth":3},
   "encoding":{"x":{"field":"m","type":"quantitative","axis":{"orient":"top","values":[1,2,3,4,5,6,7,8,9,10,11,12],"labels":false,"title":null,"grid":false}},
    "y":{"field":"v","type":"quantitative","axis":{"orient":"right","values":[0,5,10,15,20,25],"labels":false,"title":null,"grid":false}},
    "color":{"field":"s","type":"nominal","scale":{"domain":["Ref","A1B","A2","B1"],"range":["#000000","#ff0000","#0000ff","#00ff00"]},"legend":null},
    "strokeDash":{"field":"s","type":"nominal","scale":{"domain":["Ref","A1B","A2","B1"],"range":[[1,0],[9,6],[9,6],[9,6]]},"legend":null},
    "detail":{"field":"z"}}},
  {"data":{"values":[{"t":"Lower zone"}]},"mark":{"type":"rect","fill":"white","stroke":"black","strokeWidth":1.3},
   "encoding":{"x":{"datum":1.41,"type":"quantitative","axis":null},"x2":{"datum":3.67},"y":{"datum":13.3,"type":"quantitative","axis":null},"y2":{"datum":16.5}}},
  {"data":{"values":[{"t":"Lower zone"}]},"mark":{"type":"text","fontSize":15,"fontWeight":"bold","color":"black"},
   "encoding":{"x":{"datum":2.54,"type":"quantitative","axis":null},"y":{"datum":14.9,"type":"quantitative","axis":null},"text":{"field":"t"}}},
  {"data":{"values":[{"t":"Upper zone"}]},"mark":{"type":"rect","fill":"white","stroke":"black","strokeWidth":1.3},
   "encoding":{"x":{"datum":1.41,"type":"quantitative","axis":null},"x2":{"datum":3.67},"y":{"datum":0.41,"type":"quantitative","axis":null},"y2":{"datum":3.55}}},
  {"data":{"values":[{"t":"Upper zone"}]},"mark":{"type":"text","fontSize":15,"fontWeight":"bold","color":"black"},
   "encoding":{"x":{"datum":2.54,"type":"quantitative","axis":null},"y":{"datum":1.95,"type":"quantitative","axis":null},"text":{"field":"t"}}}
 ]}
],
"resolve":{"scale":{"x":"independent","y":"independent","color":"independent","strokeDash":"independent"},"legend":{"color":"independent","strokeDash":"independent"}},
"config":{
 "font":"Liberation Sans",
 "view":{"stroke":null},
 "axis":{"labelFontSize":18,"labelColor":"#000000","labelFlush":false,"labelOverlap":false,"titleFontSize":18,"titleFontWeight":"normal","titleColor":"#000000","domainColor":"#000000","domainWidth":1,"tickColor":"#000000","tickSize":-5,"tickWidth":1,"gridColor":"#000000","gridDash":[1,5],"gridOpacity":0.7,"gridWidth":1,"labelPadding":11,"titlePadding":9},
 "axisX":{"labelPadding":13,"titlePadding":3},
 "legend":{"orient":"none","legendX":145,"legendY":10,"strokeColor":"#000000","fillColor":"#ffffff","padding":4,"symbolType":"M-6,0H6","symbolSize":90,"symbolStrokeWidth":3,"symbolOffset":30,"labelOffset":27,"labelFontSize":9.5,"labelColor":"#000000","rowPadding":0},
 "title":{"fontSize":18.5,"fontWeight":"normal","color":"#000000","offset":10}
}
}
